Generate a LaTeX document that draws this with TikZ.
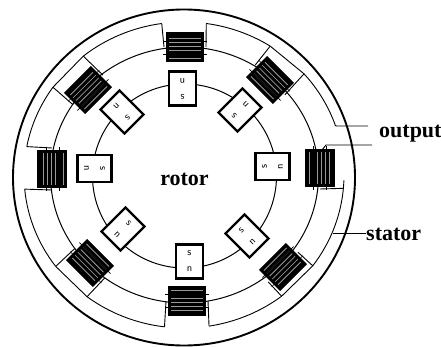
\documentclass[tikz,border=0pt]{standalone}
\usepackage{fontspec}
\setmainfont{Liberation Serif}
\usetikzlibrary{calc}
\begin{document}
\begin{tikzpicture}[x=1pt,y=1pt,
  casing/.style={line width=1.9pt},
  bore/.style={line width=1pt},
  wire/.style={line width=0.9pt, line join=round},
  coilbox/.style={draw=black, fill=black, line width=1pt, minimum width=29pt, minimum height=37pt, inner sep=0pt},
  winding/.style={draw=black!40, line width=0.8pt},
  wrap/.style={draw=black, line width=0.6pt},
  magbox/.style={draw=black, fill=white, line width=2.3pt, minimum width=34pt, minimum height=27pt, inner sep=0pt},
  pole/.style={font=\fontsize{10.5}{10.5}\selectfont\sffamily, inner sep=0pt},
  lbl/.style={font=\fontsize{22}{22}\selectfont\bfseries, inner sep=0pt}]
\useasboundingbox (0,0) rectangle (441,-347);

% centre of the wiring loop
\coordinate (W) at (184,-175);

% stator casing, stator bore and rotor circle
\draw[casing] (184,-177.5) ellipse[x radius=171, y radius=168];
\draw[bore] (184.5,-175) ellipse[x radius=134, y radius=128];
\draw[bore] (184.5,-176) circle[radius=92];

% series wiring between neighbouring coils
\foreach \a/\b in {57.4/82, 98/129, 145/169.3, 185.3/216.7, 232.7/263, 279/307.6, 323.6/358}
  \draw[wire] (W) ++(\a:160 and 153) arc[start angle=\a, end angle=\b, x radius=160, y radius=153];
% wire leaving towards the output terminal
\draw[wire] (W) ++(41.4:160 and 153) arc[start angle=41.4, end angle=18.7, x radius=160, y radius=153]
  coordinate (outA);
\coordinate (outAend) at (368,-126);
\draw[wire] (outA) -- (outAend);

% coils with their leads
\foreach \x/\y/\r/\p [count=\i] in {320/168/0/3, 270/80/45/49.4, 185/47/90/90, 88/90/135/137,
                                     52/169/180/177.3, 90/263/225/224.7, 187/301/270/271, 283/267/315/315.6}{
  \coordinate (s1) at ($(\x,-\y)+(\r+90:21)$);
  \coordinate (s2) at ($(\x,-\y)+(\r-90:21)$);
  \coordinate (e1) at ($(W)+(\p+8:160 and 153)$);
  \coordinate (e2) at ($(W)+(\p-8:160 and 153)$);
  \ifnum\i=1\else\draw[wire] (s1) -- (e1);\fi
  \draw[wire] (s2) -- (e2);
  \ifodd\i\else\draw[wire] (e1) -- (e2);\fi
  \node[coilbox, rotate=\r] (coil\i) at (\x,-\y) {};
  \begin{scope}[shift={(\x,-\y)}, rotate=\r]
    \foreach \s in {-11,-7,-3,1,5,9}
      \draw[winding] (\s,-16) -- (\s,16);
    \draw[wrap] (-7,-22) -- (-7,22) (6,-22) -- (6,22);
  \end{scope}
}

% output terminal lead from the coil on the right
\coordinate (outB0) at (322,-150);
\coordinate (outB1) at (326,-145);
\coordinate (outBend) at (372,-145);
\draw[wire] (outB0) -- (outB1) -- (outBend);

% rotor magnets
\foreach \x/\y/\r [count=\i] in {272.5/166.5/0, 240/110/45, 182.5/88.5/90, 122/112/135,
                                 94.5/168.5/180, 123/229/225, 189.5/261.5/270, 247/236/315}{
  \node[magbox, rotate=\r] (mag\i) at (\x,-\y) {};
  \node[pole, rotate=\r+90] (n\i) at ($(\x,-\y)+(\r:8)$) {n};
  \node[pole, rotate=\r+90] (s\i) at ($(\x,-\y)+(\r+180:8)$) {s};
}

% labels
\node[lbl, anchor=base] (rotor) at (184.5,-185.5) {rotor};
\node[lbl, anchor=base west] (output) at (379,-138) {output};
\node[lbl, anchor=base west] (stator) at (366,-240.5) {stator};
\coordinate (statorleader) at (333,-233);
\draw[wire] (statorleader) -- (stator.west |- statorleader);
\end{tikzpicture}
\end{document}
